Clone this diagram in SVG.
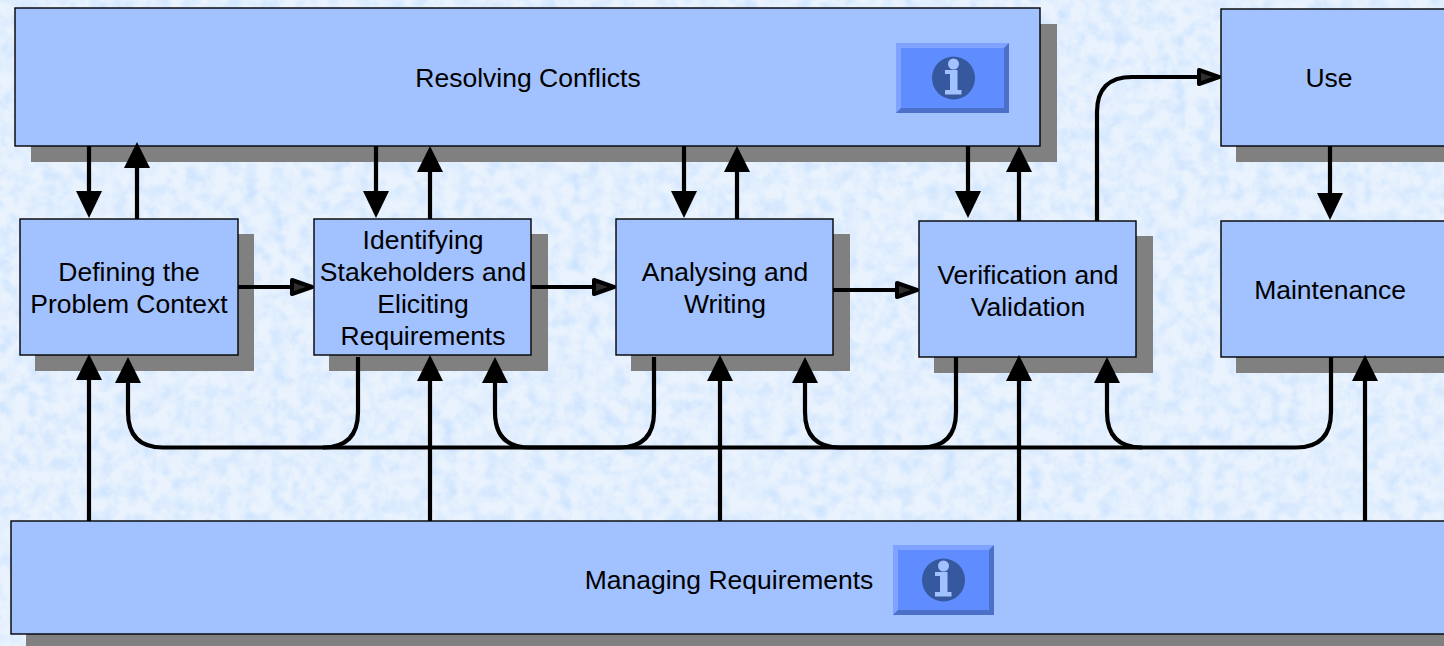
<svg xmlns="http://www.w3.org/2000/svg" width="1444" height="646" viewBox="0 0 1444 646">
<style>
.shadow{fill:#808080}
.box{fill:#a2c1ff;stroke:#000;stroke-width:1.4}
.lbl{font-family:"Liberation Sans",Arial,sans-serif;font-size:26.5px;fill:#000;text-anchor:middle}
.conn{fill:none;stroke:#000;stroke-width:4.2}
.open{fill:#2e2e2e;stroke:#000;stroke-width:4;stroke-linejoin:round}
</style>
<defs>
<filter id="mottle" x="0" y="0" width="100%" height="100%" color-interpolation-filters="sRGB">
<feTurbulence type="fractalNoise" baseFrequency="0.07" numOctaves="5" seed="7"/>
<feColorMatrix type="matrix" values="0 0 0 0 0.80  0 0 0 0 0.89  0 0 0 0 1  1.3 1.3 0 0 -1.05"/>
</filter>
<g id="info-glyph">
<circle cx="0" cy="0" r="21.500" fill="#36589f"/>
<circle cx="0" cy="-14" r="5.500" fill="#a2c1ff"/>
<path d="M-8.500 -8H4V12H8V16.500H-8.500V12H-3.500V-4H-8.500Z" fill="#a2c1ff"/>
</g>
</defs>
<rect width="1444" height="646" fill="#eaf3fd"/>
<rect width="1444" height="646" filter="url(#mottle)"/>
<g id="node-resolving">
<rect class="shadow" x="31" y="24" width="1026" height="138"/>
<rect class="box" x="15" y="8" width="1025" height="138"/>
<text class="lbl" x="528" y="87">Resolving Conflicts</text>
<g id="info-top">
<rect x="896" y="43" width="113" height="70" fill="#5f8cff"/>
<path d="M896 43H1009L1004 48H901V108L896 113Z" fill="#7fa3ff"/>
<path d="M1009 43V113H896L901 108H1004V48Z" fill="#4c6fc8"/>
<use href="#info-glyph" x="953.500" y="78"/>
</g>
</g>
<g id="node-use">
<rect class="shadow" x="1236" y="24" width="208" height="138"/>
<rect class="box" x="1221" y="9" width="230" height="137"/>
<text class="lbl" x="1329" y="87">Use</text>
</g>
<g id="node-defining">
<rect class="shadow" x="35" y="234" width="219" height="137"/>
<rect class="box" x="20" y="219" width="218" height="136"/>
<text class="lbl" x="129" y="281">Defining the</text>
<text class="lbl" x="129" y="313">Problem Context</text>
</g>
<g id="node-identifying">
<rect class="shadow" x="329" y="234" width="219" height="137"/>
<rect class="box" x="314" y="219" width="217" height="136"/>
<text class="lbl" x="423" y="249">Identifying</text>
<text class="lbl" x="423" y="281">Stakeholders and</text>
<text class="lbl" x="423" y="313">Eliciting</text>
<text class="lbl" x="423" y="345">Requirements</text>
</g>
<g id="node-analysing">
<rect class="shadow" x="631" y="234" width="219" height="137"/>
<rect class="box" x="616" y="219" width="217" height="136"/>
<text class="lbl" x="725" y="281">Analysing and</text>
<text class="lbl" x="725" y="313">Writing</text>
</g>
<g id="node-verification">
<rect class="shadow" x="934" y="236" width="219" height="137"/>
<rect class="box" x="919" y="221" width="217" height="136"/>
<text class="lbl" x="1028" y="284">Verification and</text>
<text class="lbl" x="1028" y="316">Validation</text>
</g>
<g id="node-maintenance">
<rect class="shadow" x="1236" y="236" width="208" height="137"/>
<rect class="box" x="1221" y="221" width="230" height="136"/>
<text class="lbl" x="1330" y="299">Maintenance</text>
</g>
<g id="node-managing">
<rect class="shadow" x="26" y="536" width="1418" height="110"/>
<rect class="box" x="11" y="521" width="1440" height="113"/>
<text class="lbl" x="729" y="589">Managing Requirements</text>
<g id="info-bottom">
<rect x="893" y="545" width="101" height="70" fill="#5f8cff"/>
<path d="M893 545H994L989 550H898V610L893 615Z" fill="#7fa3ff"/>
<path d="M994 545V615H893L898 610H989V550Z" fill="#4c6fc8"/>
<use href="#info-glyph" x="943.500" y="580"/>
</g>
</g>
<g id="connectors">
<path class="conn" d="M89 146V192"/><path d="M76 191H102L89 218Z"/>
<path class="conn" d="M137 219V168"/><path d="M124 168H150L137 142Z"/>
<path class="conn" d="M376 146V192"/><path d="M363 191H389L376 218Z"/>
<path class="conn" d="M430 219V172"/><path d="M417 172H443L430 146Z"/>
<path class="conn" d="M684 146V192"/><path d="M671 191H697L684 218Z"/>
<path class="conn" d="M737 219V172"/><path d="M724 172H750L737 146Z"/>
<path class="conn" d="M968 146V192"/><path d="M955 191H981L968 218Z"/>
<path class="conn" d="M1019 221V172"/><path d="M1006 172H1032L1019 146Z"/>
<path class="conn" d="M1330 146V194"/><path d="M1317 193H1343L1330 220Z"/>
<path class="conn" d="M1097 221V112Q1097 77 1132 77H1198"/>
<path class="open" d="M1199 70L1219 77L1199 84Z"/>
<path class="conn" d="M238 287H292"/><path class="open" d="M292 280L312 287L292 294Z"/>
<path class="conn" d="M531 287H594"/><path class="open" d="M594 280L614 287L594 294Z"/>
<path class="conn" d="M833 290H897"/><path class="open" d="M897 283L917 290L897 297Z"/>
<path class="conn" d="M89 521V380"/><path d="M76 380H102L89 354Z"/>
<path class="conn" d="M430 521V380"/><path d="M417 381H443L430 355Z"/>
<path class="conn" d="M720 521V380"/><path d="M707 381H733L720 355Z"/>
<path class="conn" d="M1019 521V380"/><path d="M1006 381H1032L1019 355Z"/>
<path class="conn" d="M1365 521V380"/><path d="M1352 381H1378L1365 355Z"/>
<path class="conn" d="M128 381V412Q128 447.500 163 447.500H1296Q1331 447.500 1331 412V357"/>
<path d="M115 383H141L128 357Z"/>
<path class="conn" d="M358 357V412Q358 447.500 323 447.500"/>
<path class="conn" d="M495 381V412Q495 447.500 530 447.500H619Q654 447.500 654 412V357"/>
<path d="M482 383H508L495 357Z"/>
<path class="conn" d="M805 381V412Q805 447.500 840 447.500H921Q956 447.500 956 412V357"/>
<path d="M792 383H818L805 357Z"/>
<path class="conn" d="M1107 381V412Q1107 447.500 1142 447.500"/>
<path d="M1094 383H1120L1107 357Z"/>
</g>
</svg>
